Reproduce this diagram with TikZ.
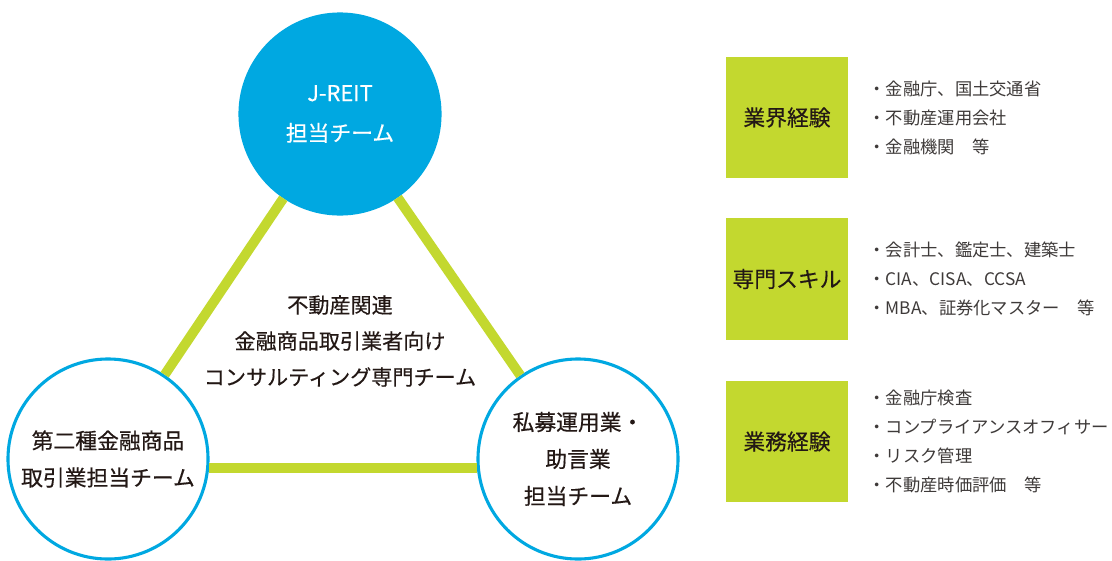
\documentclass[tikz,border=0pt]{standalone}
\usepackage{fontspec}
\setmainfont{Noto Sans CJK JP}
\newfontfamily\labelfont[FakeBold=0.4]{Noto Sans CJK JP}
\usetikzlibrary{positioning}
\definecolor{teamblue}{HTML}{00A8E1}
\definecolor{linkgreen}{HTML}{C3D82F}
\definecolor{txtdark}{HTML}{231815}
\definecolor{txtgray}{HTML}{3E3A39}

\begin{document}
\begin{tikzpicture}[x=0.025cm, y=-0.025cm,
	team/.style={circle, draw=teamblue, line width=2.2pt, fill=white, minimum size=5cm, inner sep=0pt, align=center, text=txtdark, font=\labelfont\fontsize{15.5}{26.3}\selectfont},
	link/.style={draw=linkgreen, line width=7pt},
	area/.style={fill=linkgreen, minimum width=3.05cm, minimum height=3.03cm, inner sep=0pt, text=txtdark, font=\labelfont\fontsize{15.5}{18}\selectfont},
	items/.style={align=left, inner sep=0pt, text=txtgray, font=\fontsize{12.3}{20.6}\selectfont}]
	\useasboundingbox (0,0) rectangle (1112,560);
	
	% Teams
	\node[team, fill=teamblue, text=white, font=\labelfont\fontsize{15.5}{28.5}\selectfont] (jreit) at (340,114) {J-REIT\\担当チーム};
	\node[team] (second) at (108,459) {第二種金融商品\\取引業担当チーム};
	\node[team] (priv) at (578,459) {私募運用業・\\助言業\\担当チーム};
	
	% Links
	\draw[link] (jreit) -- (second);
	\draw[link] (jreit) -- (priv);
	\draw[link] (second.-5) -- (priv.185);
	
	\node[align=center, text=txtdark, font=\labelfont\fontsize{15}{25.6}\selectfont] (center) at (340,341) {不動産関連\\金融商品取引業者向け\\コンサルティング専門チーム};
	
	% Background of the members
	\node[area] (career) at (787,117.5) {業界経験};
	\node[area] (skill) at (787,279) {専門スキル};
	\node[area] (work) at (787,441.5) {業務経験};
	
	\node[items, right=0.5cm of career] (careerlist) {・金融庁、国土交通省\\・不動産運用会社\\・金融機関　等};
	\node[items, right=0.5cm of skill] (skilllist) {・会計士、鑑定士、建築士\\・CIA、CISA、CCSA\\・MBA、証券化マスター　等};
	\node[items, right=0.5cm of work] (worklist) {・金融庁検査\\・コンプライアンスオフィサー\\・リスク管理\\・不動産時価評価　等};
\end{tikzpicture}
\end{document}
